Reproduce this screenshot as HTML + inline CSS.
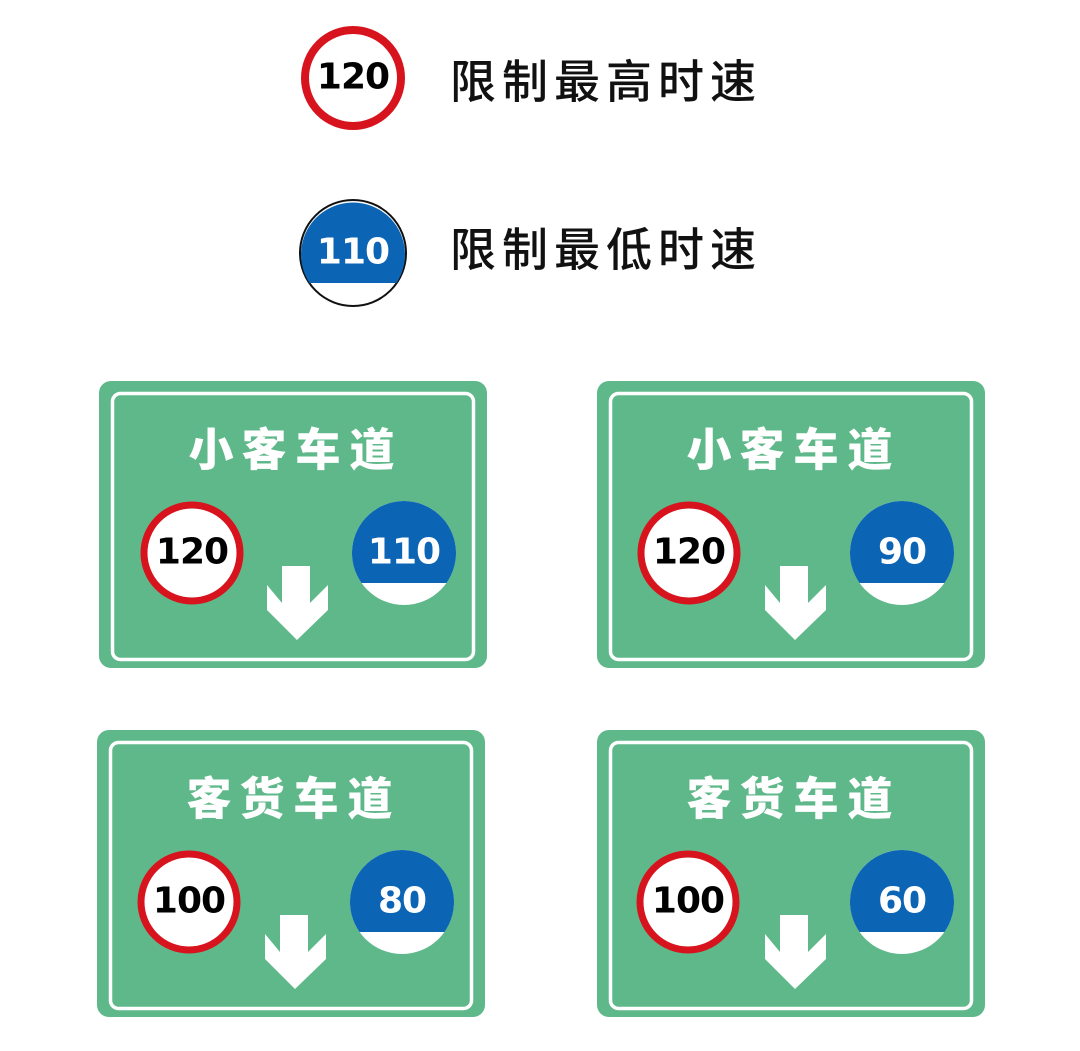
<!DOCTYPE html>
<html><head><meta charset="utf-8"><style>
html,body{margin:0;padding:0;background:#fff;}
svg{display:block;}
text{font-family:"Liberation Sans","Noto Sans CJK SC",sans-serif;}
.t{font-family:"Noto Sans CJK SC","WenQuanYi Zen Hei",sans-serif;font-weight:900;font-size:45px;fill:#fff;text-anchor:middle;dominant-baseline:central;}
.n{font-family:"DejaVu Sans","Liberation Sans",sans-serif;font-weight:700;text-anchor:middle;dominant-baseline:central;letter-spacing:-1px;}
.c{font-family:"Noto Sans CJK SC",sans-serif;font-weight:500;}
</style></head><body>
<svg width="1080" height="1051" viewBox="0 0 1080 1051" xmlns="http://www.w3.org/2000/svg">
<defs>
<path id="arr" d="M183 185 H211 V222 L229 204 V229 L198 259 L168 229 V204 L183 222 Z" fill="#fff"/>
</defs>
<rect width="1080" height="1051" fill="#fff"/>
<circle cx="353" cy="78" r="48" fill="#fff" stroke="#d7141e" stroke-width="8"/>
<text class="n" x="353" y="77" font-size="36" fill="#000">120</text>
<text class="c" x="450" y="98" font-size="46" fill="#111" letter-spacing="6">限制最高时速</text>
<g transform="translate(353,253)">
<circle r="53" fill="#fff" stroke="#111" stroke-width="2"/>
<path d="M-43.5 30 A52 52 0 1 1 43.5 30 Z" fill="#0b64b4"/>
<text class="n" x="0" y="-1" font-size="36" fill="#fff">110</text>
</g>
<text class="c" x="450" y="266" font-size="46" fill="#111" letter-spacing="6">限制最低时速</text>

<g transform="translate(99,381)">
<rect x="0" y="0" width="388" height="287" rx="12" fill="#5fb88a"/>
<rect x="13.5" y="12.5" width="361" height="266" rx="8" fill="none" stroke="#fff" stroke-width="3.5"/>
<text class="t" x="112" y="65">小</text><text class="t" x="165" y="65">客</text><text class="t" x="219" y="65">车</text><text class="t" x="273" y="65">道</text>
<circle cx="93" cy="172" r="48" fill="#fff" stroke="#d7141e" stroke-width="7"/>
<text class="n" x="93" y="171" font-size="36" fill="#000">120</text>
<g transform="translate(305,172)"><circle r="52" fill="#fff"/><path d="M-42.5 30 A52 52 0 1 1 42.5 30 Z" fill="#0b64b4"/><text class="n" x="0" y="-1" font-size="36" fill="#fff">110</text></g>
<use href="#arr"/>
</g>

<g transform="translate(597,381)">
<rect x="0" y="0" width="388" height="287" rx="12" fill="#5fb88a"/>
<rect x="13.5" y="12.5" width="361" height="266" rx="8" fill="none" stroke="#fff" stroke-width="3.5"/>
<text class="t" x="112" y="65">小</text><text class="t" x="165" y="65">客</text><text class="t" x="219" y="65">车</text><text class="t" x="273" y="65">道</text>
<circle cx="92" cy="172" r="48" fill="#fff" stroke="#d7141e" stroke-width="7"/>
<text class="n" x="92" y="171" font-size="36" fill="#000">120</text>
<g transform="translate(305,172)"><circle r="52" fill="#fff"/><path d="M-42.5 30 A52 52 0 1 1 42.5 30 Z" fill="#0b64b4"/><text class="n" x="0" y="-1" font-size="36" fill="#fff">90</text></g>
<use href="#arr"/>
</g>

<g transform="translate(97,730)">
<rect x="0" y="0" width="388" height="287" rx="12" fill="#5fb88a"/>
<rect x="13.5" y="12.5" width="361" height="266" rx="8" fill="none" stroke="#fff" stroke-width="3.5"/>
<text class="t" x="112" y="65">客</text><text class="t" x="165" y="65">货</text><text class="t" x="219" y="65">车</text><text class="t" x="273" y="65">道</text>
<circle cx="92" cy="172" r="48" fill="#fff" stroke="#d7141e" stroke-width="7"/>
<text class="n" x="92" y="171" font-size="36" fill="#000">100</text>
<g transform="translate(305,172)"><circle r="52" fill="#fff"/><path d="M-42.5 30 A52 52 0 1 1 42.5 30 Z" fill="#0b64b4"/><text class="n" x="0" y="-1" font-size="36" fill="#fff">80</text></g>
<use href="#arr"/>
</g>

<g transform="translate(597,730)">
<rect x="0" y="0" width="388" height="287" rx="12" fill="#5fb88a"/>
<rect x="13.5" y="12.5" width="361" height="266" rx="8" fill="none" stroke="#fff" stroke-width="3.5"/>
<text class="t" x="112" y="65">客</text><text class="t" x="165" y="65">货</text><text class="t" x="219" y="65">车</text><text class="t" x="273" y="65">道</text>
<circle cx="91" cy="172" r="48" fill="#fff" stroke="#d7141e" stroke-width="7"/>
<text class="n" x="91" y="171" font-size="36" fill="#000">100</text>
<g transform="translate(305,172)"><circle r="52" fill="#fff"/><path d="M-42.5 30 A52 52 0 1 1 42.5 30 Z" fill="#0b64b4"/><text class="n" x="0" y="-1" font-size="36" fill="#fff">60</text></g>
<use href="#arr"/>
</g>
</svg>
</body></html>
